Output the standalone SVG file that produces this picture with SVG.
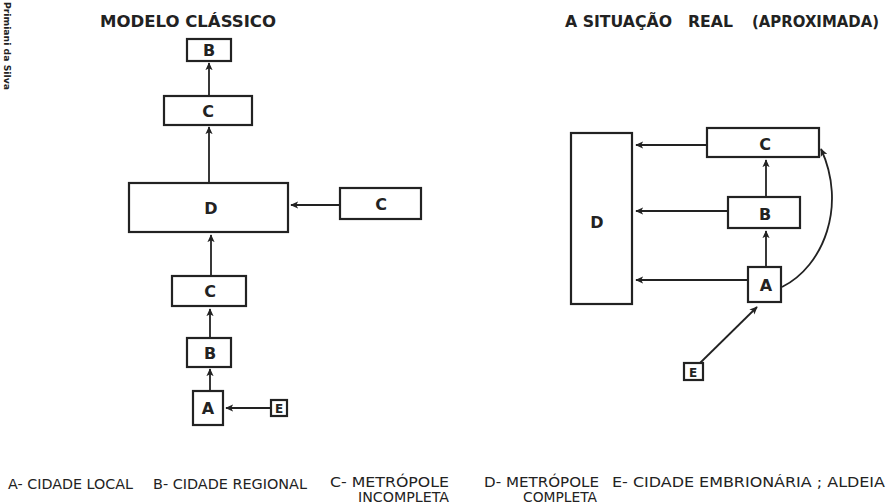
<svg xmlns="http://www.w3.org/2000/svg" width="890" height="504" viewBox="0 0 890 504">
<defs>
<marker id="ah" viewBox="0 0 10 10" refX="9" refY="5" markerWidth="8" markerHeight="8" markerUnits="userSpaceOnUse" orient="auto">
<path d="M0,0.5 L10,5 L0,9.5 L2.5,5 Z" fill="#222"/>
</marker>
<style>
.box{fill:#fff;stroke:#222;stroke-width:2.2}
.lbl{font-family:"DejaVu Sans","Liberation Sans",sans-serif;font-weight:bold;font-size:16px;fill:#222;text-anchor:middle}
.small{font-size:12px}
.title{font-family:"DejaVu Sans","Liberation Sans",sans-serif;font-weight:bold;font-size:15px;fill:#222}
.leg{font-family:"DejaVu Sans","Liberation Sans",sans-serif;font-size:13.5px;fill:#222}
.con{fill:none;stroke:#222;stroke-width:1.8;marker-end:url(#ah)}
</style>
</defs>
<rect width="890" height="504" fill="#fff"/>
<text class="title" transform="translate(4,2) rotate(90)" style="font-size:9px" textLength="88" lengthAdjust="spacingAndGlyphs">Primiani da Silva</text>
<text class="title" x="100" y="27" textLength="176" lengthAdjust="spacingAndGlyphs">MODELO CLÁSSICO</text>
<text class="title" y="27"><tspan x="565" textLength="107" lengthAdjust="spacingAndGlyphs">A SITUAÇÃO</tspan><tspan x="688" textLength="45" lengthAdjust="spacingAndGlyphs">REAL</tspan><tspan x="752" textLength="127" lengthAdjust="spacingAndGlyphs">(APROXIMADA)</tspan></text>

<g id="connectors">
<line class="con" x1="209" y1="96" x2="209" y2="63"/>
<line class="con" x1="209" y1="183" x2="209" y2="127"/>
<line class="con" x1="340" y1="205" x2="291" y2="205"/>
<line class="con" x1="211" y1="276" x2="211" y2="235"/>
<line class="con" x1="210" y1="338" x2="210" y2="309"/>
<line class="con" x1="210" y1="391" x2="210" y2="369"/>
<line class="con" x1="271" y1="408" x2="226" y2="408"/>
<line class="con" x1="707" y1="145" x2="636" y2="145"/>
<line class="con" x1="728" y1="211" x2="636" y2="211"/>
<line class="con" x1="748" y1="280" x2="636" y2="280"/>
<line class="con" x1="766" y1="267" x2="766" y2="231"/>
<line class="con" x1="766" y1="197" x2="766" y2="160"/>
<path class="con" d="M782,287 C824,266 847,205 821,149"/>
<line class="con" x1="700" y1="363" x2="757" y2="307"/>
</g>

<g id="l-B1"><rect class="box" x="187" y="39" width="44" height="22"/><text class="lbl" x="209" y="56">B</text></g>
<g id="l-C1"><rect class="box" x="164" y="96" width="88" height="29"/><text class="lbl" x="208" y="117">C</text></g>
<g id="l-D"><rect class="box" x="129" y="183" width="159" height="49"/><text class="lbl" x="211" y="214">D</text></g>
<g id="l-C3"><rect class="box" x="340" y="188" width="81" height="31"/><text class="lbl" x="381" y="210">C</text></g>
<g id="l-C2"><rect class="box" x="172" y="276" width="74" height="30"/><text class="lbl" x="210" y="297">C</text></g>
<g id="l-B2"><rect class="box" x="187" y="338" width="44" height="29"/><text class="lbl" x="210" y="359">B</text></g>
<g id="l-A"><rect class="box" x="193" y="391" width="30" height="34"/><text class="lbl" x="208" y="414">A</text></g>
<g id="l-E"><rect class="box" x="271" y="400" width="16" height="16"/><text class="lbl small" x="279" y="413">E</text></g>

<g id="r-D"><rect class="box" x="571" y="133" width="61" height="171"/><text class="lbl" x="597" y="228">D</text></g>
<g id="r-C"><rect class="box" x="707" y="128" width="112" height="29"/><text class="lbl" x="765" y="150">C</text></g>
<g id="r-B"><rect class="box" x="728" y="197" width="72" height="31"/><text class="lbl" x="765" y="220">B</text></g>
<g id="r-A"><rect class="box" x="748" y="267" width="33" height="35"/><text class="lbl" x="766" y="291">A</text></g>
<g id="r-E"><rect class="box" x="684" y="363" width="19" height="17"/><text class="lbl small" x="693" y="377">E</text></g>

<g id="legend">
<text class="leg" x="8" y="489" textLength="125" lengthAdjust="spacingAndGlyphs">A- CIDADE LOCAL</text>
<text class="leg" x="153" y="489" textLength="154" lengthAdjust="spacingAndGlyphs">B- CIDADE REGIONAL</text>
<text class="leg" x="330" y="487" textLength="119" lengthAdjust="spacingAndGlyphs">C- METRÓPOLE</text>
<text class="leg" x="358" y="502" textLength="91" lengthAdjust="spacingAndGlyphs">INCOMPLETA</text>
<text class="leg" x="484" y="487" textLength="115" lengthAdjust="spacingAndGlyphs">D- METRÓPOLE</text>
<text class="leg" x="523" y="502" textLength="74" lengthAdjust="spacingAndGlyphs">COMPLETA</text>
<text class="leg" x="612" y="487" textLength="273" lengthAdjust="spacingAndGlyphs">E- CIDADE EMBRIONÁRIA ; ALDEIA</text>
</g>
</svg>
